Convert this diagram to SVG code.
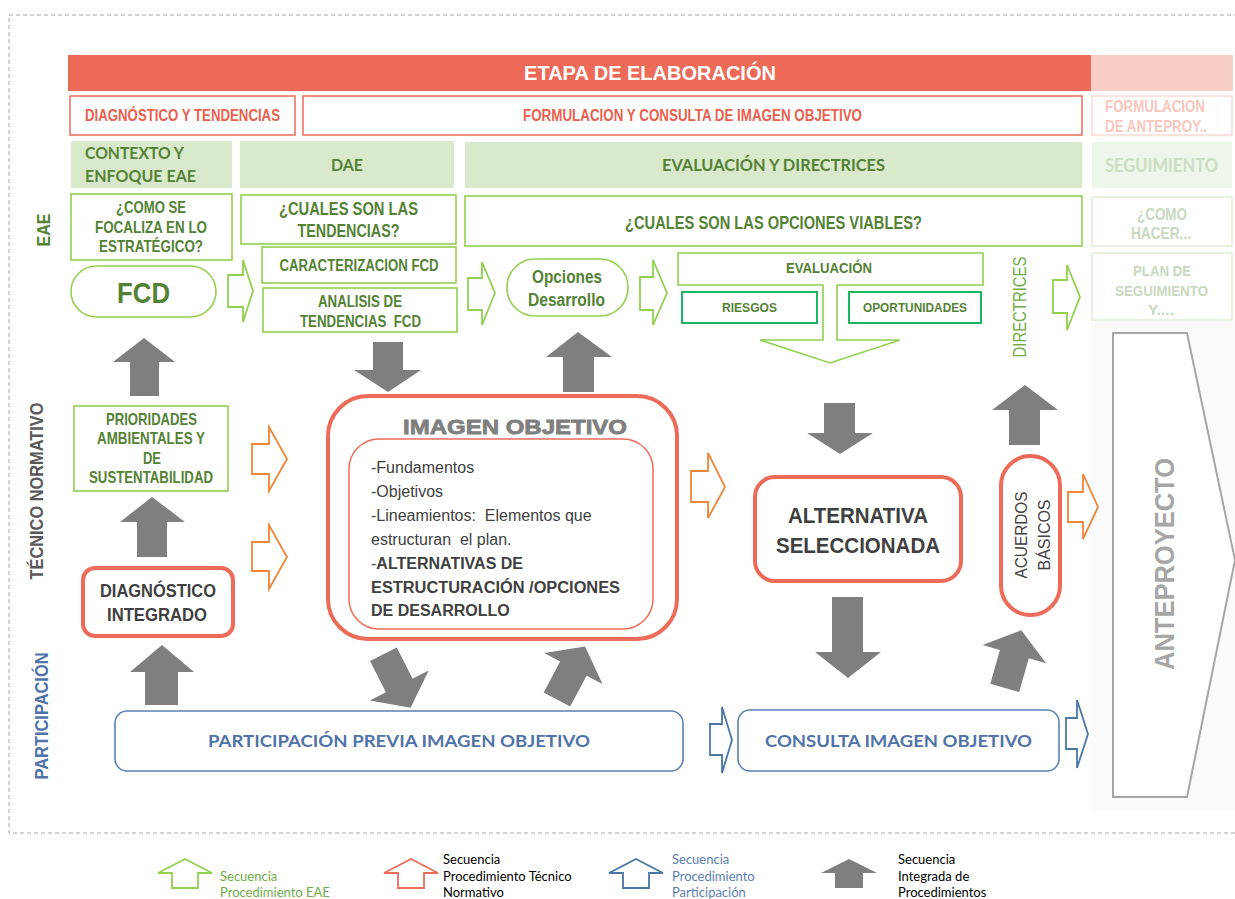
<svg xmlns="http://www.w3.org/2000/svg" width="1235" height="899" viewBox="0 0 1235 899">
  <defs>
    <style>
      .nar { font-family: "Liberation Sans", Arial, sans-serif; font-weight: bold; }
      .reg { font-family: "Liberation Sans", Arial, sans-serif; font-weight: normal; }
      .cal { font-family: Lato, "Open Sans", sans-serif; font-weight: bold; }
      .leg { font-family: Lato, "Open Sans", sans-serif; font-weight: normal; font-size: 13px; }
      .redbox { fill: #fff; stroke: #ee6b5a; stroke-width: 1.5; }
      .redtxt { fill: #ea5f4d; }
      .greenfill { fill: #d9e9cc; }
      .greenbox { fill: #fff; stroke: #92d050; stroke-width: 1.6; }
      .darkgreenbox { fill: #fff; stroke: #00b050; stroke-width: 1.8; }
      .gtxt { fill: #548235; }
      .thick { fill: #fff; stroke: #ee6b5a; stroke-width: 4; }
      .bluebox { fill: #fff; stroke: #5a80b4; stroke-width: 1.6; }
      .btxt { fill: #4f73a8; }
      .dtxt { fill: #404040; }
      .ga { fill: #7f7f7f; }
      .harr-g { fill: #fff; stroke: #92d050; stroke-width: 1.8; }
      .harr-o { fill: #fff; stroke: #f08437; stroke-width: 1.8; }
      .harr-b { fill: #fff; stroke: #4a76a8; stroke-width: 1.8; }
      .harr-r { fill: #fff; stroke: #ee6b5a; stroke-width: 1.8; }
      .fade-box { fill: #fff; stroke: #e2f0d6; stroke-width: 1.6; }
      .fade-txt { fill: #c9d9c1; }
    </style>
    <linearGradient id="orange-fade" gradientUnits="userSpaceOnUse" x1="1068" y1="0" x2="1098" y2="0">
      <stop offset="0" stop-color="#f08437"/>
      <stop offset="0.6" stop-color="#f08437"/>
      <stop offset="1" stop-color="#fbd9c0"/>
    </linearGradient>
  </defs>

  <rect x="0" y="0" width="1235" height="899" fill="#fff"/>

  <!-- outer dashed frame -->
  <rect x="9" y="15" width="1240" height="818" fill="none" stroke="#a6a6a6" stroke-width="1" stroke-dasharray="4 3"/>

  <!-- faded right column backdrop -->
  <rect x="1091" y="322" width="144" height="488" fill="#fafafa"/>

  <!-- header bar -->
  <g id="etapa">
    <rect x="68" y="55" width="1023" height="36" fill="#ee6a58"/>
    <rect x="1091" y="55" width="142" height="36" fill="#f8cdc6"/>
    <text class="nar" x="650" y="80" font-size="20" fill="#fff" text-anchor="middle">ETAPA DE ELABORACIÓN</text>
  </g>

  <!-- phase row -->
  <g id="diag-tend">
    <rect class="redbox" x="70" y="96" width="225" height="39"/>
    <text class="nar redtxt" x="182.5" y="121" font-size="16" text-anchor="middle" textLength="195" lengthAdjust="spacingAndGlyphs">DIAGNÓSTICO Y TENDENCIAS</text>
  </g>
  <g id="formulacion">
    <rect class="redbox" x="303" y="96" width="779" height="39"/>
    <text class="nar redtxt" x="692.5" y="121" font-size="16" text-anchor="middle" textLength="339" lengthAdjust="spacingAndGlyphs">FORMULACION Y CONSULTA DE IMAGEN OBJETIVO</text>
  </g>
  <g id="formulacion-ante">
    <rect x="1092" y="96" width="140" height="39" fill="#fff" stroke="#fbd8d2" stroke-width="1.5"/>
    <text class="nar" x="1105" y="112" font-size="16" fill="#f9c6bd" textLength="100" lengthAdjust="spacingAndGlyphs">FORMULACION</text>
    <text class="nar" x="1105" y="132" font-size="16" fill="#f9c6bd" textLength="102" lengthAdjust="spacingAndGlyphs">DE ANTEPROY..</text>
  </g>

  <!-- EAE stage row -->
  <g id="contexto">
    <rect class="greenfill" x="71" y="141" width="161" height="47"/>
    <text class="cal gtxt" x="85" y="159" font-size="17" textLength="99" lengthAdjust="spacingAndGlyphs">CONTEXTO Y</text>
    <text class="cal gtxt" x="85" y="182" font-size="17" textLength="111" lengthAdjust="spacingAndGlyphs">ENFOQUE EAE</text>
  </g>
  <g id="dae">
    <rect class="greenfill" x="240" y="141" width="214" height="47"/>
    <text class="cal gtxt" x="347" y="171" font-size="17" text-anchor="middle" textLength="32" lengthAdjust="spacingAndGlyphs">DAE</text>
  </g>
  <g id="evaluacion-directrices">
    <rect class="greenfill" x="465" y="142" width="617" height="46"/>
    <text class="cal gtxt" x="773.5" y="171" font-size="17" text-anchor="middle" textLength="223" lengthAdjust="spacingAndGlyphs">EVALUACIÓN Y DIRECTRICES</text>
  </g>
  <g id="seguimiento">
    <rect x="1092" y="142" width="140" height="46" fill="#eef5ea"/>
    <text class="cal" x="1161.5" y="172" font-size="18" fill="#cbdec2" text-anchor="middle" textLength="113" lengthAdjust="spacingAndGlyphs">SEGUIMIENTO</text>
  </g>

  <!-- question boxes -->
  <g id="como-focaliza">
    <rect class="greenbox" x="71" y="194" width="161" height="66"/>
    <text class="nar gtxt" x="151" y="213" font-size="17" text-anchor="middle" textLength="70" lengthAdjust="spacingAndGlyphs">¿COMO SE</text>
    <text class="nar gtxt" x="151" y="233" font-size="17" text-anchor="middle" textLength="112" lengthAdjust="spacingAndGlyphs">FOCALIZA EN LO</text>
    <text class="nar gtxt" x="151" y="252" font-size="17" text-anchor="middle" textLength="104" lengthAdjust="spacingAndGlyphs">ESTRATÉGICO?</text>
  </g>
  <g id="cuales-tendencias">
    <rect class="greenbox" x="241" y="195" width="215" height="49"/>
    <text class="nar gtxt" x="348.5" y="215" font-size="18" text-anchor="middle" textLength="139" lengthAdjust="spacingAndGlyphs">¿CUALES SON LAS</text>
    <text class="nar gtxt" x="348.5" y="237" font-size="18" text-anchor="middle" textLength="102" lengthAdjust="spacingAndGlyphs">TENDENCIAS?</text>
  </g>
  <g id="caracterizacion">
    <rect class="greenbox" x="262" y="247" width="194" height="36"/>
    <text class="nar gtxt" x="359" y="271" font-size="16" text-anchor="middle" textLength="159" lengthAdjust="spacingAndGlyphs">CARACTERIZACION FCD</text>
  </g>
  <g id="analisis">
    <rect class="greenbox" x="263" y="288" width="194" height="44"/>
    <text class="nar gtxt" x="360" y="307" font-size="16" text-anchor="middle" textLength="84" lengthAdjust="spacingAndGlyphs">ANALISIS DE</text>
    <text class="nar gtxt" x="360.5" y="327" font-size="16" text-anchor="middle" textLength="121" lengthAdjust="spacingAndGlyphs">TENDENCIAS&#160; FCD</text>
  </g>
  <g id="opciones-viables">
    <rect class="greenbox" x="465" y="196" width="617" height="50"/>
    <text class="nar gtxt" x="773.5" y="229" font-size="17.5" text-anchor="middle" textLength="297" lengthAdjust="spacingAndGlyphs">¿CUALES SON LAS OPCIONES VIABLES?</text>
  </g>
  <g id="como-hacer">
    <rect class="fade-box" x="1092" y="197" width="140" height="49"/>
    <text class="nar fade-txt" x="1162" y="220" font-size="16" text-anchor="middle" textLength="50" lengthAdjust="spacingAndGlyphs">¿COMO</text>
    <text class="nar fade-txt" x="1161" y="239" font-size="16" text-anchor="middle" textLength="60" lengthAdjust="spacingAndGlyphs">HACER...</text>
  </g>

  <!-- FCD -->
  <g id="fcd">
    <rect class="greenbox" x="71" y="266" width="145" height="51" rx="25.5"/>
    <text class="nar gtxt" x="143.5" y="303" font-size="30" text-anchor="middle" textLength="53" lengthAdjust="spacingAndGlyphs">FCD</text>
  </g>

  <!-- opciones desarrollo -->
  <g id="opciones-desarrollo">
    <rect class="greenbox" x="507" y="259" width="121" height="57" rx="28"/>
    <text class="nar gtxt" x="567" y="283" font-size="17.5" text-anchor="middle" textLength="70" lengthAdjust="spacingAndGlyphs">Opciones</text>
    <text class="nar gtxt" x="566.5" y="306" font-size="17.5" text-anchor="middle" textLength="77" lengthAdjust="spacingAndGlyphs">Desarrollo</text>
  </g>

  <!-- evaluación block with downward outlet -->
  <g id="evaluacion">
    <path class="greenbox" d="M678,253 H983 V285 H837 V340 H900 L830,363 L760,340 H823 V285 H678 Z"/>
    <text class="nar gtxt" x="829" y="273" font-size="15" text-anchor="middle" textLength="86" lengthAdjust="spacingAndGlyphs">EVALUACIÓN</text>
  </g>
  <g id="riesgos">
    <rect class="darkgreenbox" x="682" y="292" width="135" height="31"/>
    <text class="nar gtxt" x="749.5" y="312" font-size="13" text-anchor="middle" textLength="55" lengthAdjust="spacingAndGlyphs">RIESGOS</text>
  </g>
  <g id="oportunidades">
    <rect class="darkgreenbox" x="849" y="292" width="132" height="31"/>
    <text class="nar gtxt" x="915" y="312" font-size="13" text-anchor="middle" textLength="104" lengthAdjust="spacingAndGlyphs">OPORTUNIDADES</text>
  </g>

  <g id="directrices">
    <text class="reg" transform="translate(1026,307) rotate(-90)" font-size="18" fill="#70ad47" text-anchor="middle" textLength="101" lengthAdjust="spacingAndGlyphs">DIRECTRICES</text>
  </g>

  <g id="plan-seguimiento">
    <rect class="fade-box" x="1092" y="253" width="140" height="67"/>
    <text class="nar fade-txt" x="1162" y="276" font-size="15.5" text-anchor="middle" textLength="58" lengthAdjust="spacingAndGlyphs">PLAN DE</text>
    <text class="nar fade-txt" x="1161.5" y="296" font-size="15.5" text-anchor="middle" textLength="93" lengthAdjust="spacingAndGlyphs">SEGUIMIENTO</text>
    <text class="nar fade-txt" x="1161" y="315" font-size="15.5" text-anchor="middle" textLength="26" lengthAdjust="spacingAndGlyphs">Y....</text>
  </g>

  <!-- technical-normative lane -->
  <g id="prioridades">
    <rect class="greenbox" x="74" y="406" width="154" height="85"/>
    <text class="nar gtxt" x="151.5" y="425" font-size="16.5" text-anchor="middle" textLength="91" lengthAdjust="spacingAndGlyphs">PRIORIDADES</text>
    <text class="nar gtxt" x="151" y="444" font-size="16.5" text-anchor="middle" textLength="108" lengthAdjust="spacingAndGlyphs">AMBIENTALES Y</text>
    <text class="nar gtxt" x="152" y="464" font-size="16.5" text-anchor="middle" textLength="18" lengthAdjust="spacingAndGlyphs">DE</text>
    <text class="nar gtxt" x="151" y="483" font-size="16.5" text-anchor="middle" textLength="124" lengthAdjust="spacingAndGlyphs">SUSTENTABILIDAD</text>
  </g>

  <g id="diagnostico-integrado">
    <rect class="thick" x="83" y="568" width="150" height="68" rx="12"/>
    <text class="nar dtxt" x="158" y="597" font-size="18.5" text-anchor="middle" textLength="116" lengthAdjust="spacingAndGlyphs">DIAGNÓSTICO</text>
    <text class="nar dtxt" x="157" y="621" font-size="18.5" text-anchor="middle" textLength="100" lengthAdjust="spacingAndGlyphs">INTEGRADO</text>
  </g>

  <g id="imagen-objetivo">
    <rect class="thick" x="328" y="396" width="349" height="243" rx="40"/>
    <text class="nar" x="515" y="434" font-size="21" fill="#7f7f7f" stroke="#7f7f7f" stroke-width="0.8" text-anchor="middle" textLength="224" lengthAdjust="spacingAndGlyphs">IMAGEN OBJETIVO</text>
    <rect x="349" y="439" width="304" height="190" rx="30" fill="#fff" stroke="#ee6b5a" stroke-width="1.5"/>
    <g class="reg dtxt" font-size="16">
      <text x="371" y="473">-Fundamentos</text>
      <text x="371" y="497">-Objetivos</text>
      <text x="371" y="521">-Lineamientos:&#160; Elementos que</text>
      <text x="371" y="545">estructuran&#160; el plan.</text>
      <text x="371" y="569">-<tspan class="nar">ALTERNATIVAS DE</tspan></text>
      <text class="nar" x="371" y="593" textLength="249" lengthAdjust="spacingAndGlyphs">ESTRUCTURACIÓN /OPCIONES</text>
      <text class="nar" x="371" y="616">DE DESARROLLO</text>
    </g>
  </g>

  <g id="alternativa">
    <rect class="thick" x="755" y="477" width="206" height="104" rx="20"/>
    <text class="nar dtxt" x="858" y="523" font-size="22" text-anchor="middle" textLength="140" lengthAdjust="spacingAndGlyphs">ALTERNATIVA</text>
    <text class="nar dtxt" x="858" y="553" font-size="22" text-anchor="middle" textLength="164" lengthAdjust="spacingAndGlyphs">SELECCIONADA</text>
  </g>

  <g id="acuerdos">
    <rect class="thick" x="1001" y="456" width="59" height="159" rx="29.5"/>
    <text class="reg dtxt" transform="translate(1027,535) rotate(-90)" font-size="17" text-anchor="middle" textLength="87" lengthAdjust="spacingAndGlyphs">ACUERDOS</text>
    <text class="reg dtxt" transform="translate(1050,535) rotate(-90)" font-size="17" text-anchor="middle" textLength="71" lengthAdjust="spacingAndGlyphs">BÁSICOS</text>
  </g>

  <g id="anteproyecto">
    <path d="M1113,333 H1187 L1235,560 L1187,797 H1113 Z" fill="#fff" stroke="#a6a6a6" stroke-width="2"/>
    <text class="nar" transform="translate(1174,564) rotate(-90)" font-size="27" fill="#a6a6a6" text-anchor="middle" textLength="212" lengthAdjust="spacingAndGlyphs">ANTEPROYECTO</text>
  </g>

  <!-- participation lane -->
  <g id="participacion-previa">
    <rect class="bluebox" x="115" y="711" width="568" height="60" rx="12"/>
    <text class="cal btxt" x="399" y="747" font-size="17" text-anchor="middle" textLength="382" lengthAdjust="spacingAndGlyphs">PARTICIPACIÓN PREVIA IMAGEN OBJETIVO</text>
  </g>
  <g id="consulta">
    <rect class="bluebox" x="738" y="710" width="321" height="61" rx="12"/>
    <text class="cal btxt" x="898.5" y="747" font-size="17" text-anchor="middle" textLength="267" lengthAdjust="spacingAndGlyphs">CONSULTA IMAGEN OBJETIVO</text>
  </g>

  <!-- lane labels -->
  <g id="lane-labels">
    <text class="nar gtxt" transform="translate(50,230) rotate(-90)" font-size="19" text-anchor="middle" textLength="33" lengthAdjust="spacingAndGlyphs">EAE</text>
    <text class="nar" transform="translate(43,491) rotate(-90)" font-size="18" fill="#595959" text-anchor="middle" textLength="177" lengthAdjust="spacingAndGlyphs">TÉCNICO NORMATIVO</text>
    <text class="nar btxt" transform="translate(48,716) rotate(-90)" font-size="18" text-anchor="middle" textLength="127" lengthAdjust="spacingAndGlyphs">PARTICIPACIÓN</text>
  </g>

  <!-- connectors -->
  <g id="connectors">
    <!-- EAE sequence (hollow green) -->
    <polygon class="harr-g" points="228,275 243,275 243,260 253,291 243,322 243,307 228,307"/>
    <polygon class="harr-g" points="468,278 482,278 482,262 495,293 482,325 482,310 468,310"/>
    <polygon class="harr-g" points="640,277 653,277 653,260 667,293 653,325 653,310 640,310"/>
    <polygon class="harr-g" points="1053,280 1067,280 1067,265 1080,297 1067,330 1067,313 1053,313"/>
    <!-- technical-normative sequence (hollow orange) -->
    <polygon class="harr-o" points="252,444 269,444 269,427 287,459 269,491 269,474 252,474"/>
    <polygon class="harr-o" points="252,542 269,542 269,525 287,557 269,589 269,571 252,571"/>
    <polygon class="harr-o" points="691,471 708,471 708,453 725,487 708,518 708,502 691,502"/>
    <polygon class="harr-o" stroke="url(#orange-fade)" points="1068,492 1083,492 1083,474 1098,507 1083,539 1083,522 1068,522"/>
    <!-- participation sequence (hollow blue) -->
    <polygon class="harr-b" points="710,724 722,724 722,707 732,740 722,773 722,755 710,755"/>
    <polygon class="harr-b" points="1066,718 1077,718 1077,700 1088,734 1077,768 1077,749 1066,749"/>
    <!-- integrated sequence (solid grey) -->
    <polygon class="ga" points="144,338 175,362 159,362 159,396 130,396 130,362 113,362"/>
    <polygon class="ga" points="152,497 185,522 167,522 167,557 137,557 137,522 120,522"/>
    <polygon class="ga" points="162,645 194,672 178,672 178,705 145,705 145,672 130,672"/>
    <polygon class="ga" points="373,342 403,342 403,370 421,370 388,392 354,370 373,370"/>
    <polygon class="ga" points="578,332 612,357 594,357 594,392 563,392 563,357 546,357"/>
    <polygon class="ga" points="824,403 855,403 855,433 873,433 840,454 807,433 824,433"/>
    <polygon class="ga" points="832,597 863,597 863,652 881,652 848,678 815,652 832,652"/>
    <polygon class="ga" points="1025,385 1058,410 1040,410 1040,445 1009,445 1009,410 992,410"/>
    <polygon class="ga" transform="translate(1013,659) rotate(16)" points="0,-30 33,-5 15,-5 15,30 -15,30 -15,-5 -33,-5"/>
    <polygon class="ga" transform="translate(397,681) rotate(-27)" points="0,30 33,5 15,5 15,-30 -15,-30 -15,5 -33,5"/>
    <polygon class="ga" transform="translate(571,673) rotate(28)" points="0,-30 33,-5 15,-5 15,30 -15,30 -15,-5 -33,-5"/>
  </g>

  <!-- legend -->
  <g id="legend">
    <polygon class="harr-g" points="185,859 212,873 198,873 198,888 172,888 172,873 158,873"/>
    <text class="leg" x="220" y="881" fill="#70ad47">Secuencia</text>
    <text class="leg" x="220" y="897" fill="#70ad47">Procedimiento EAE</text>

    <polygon class="harr-r" points="411,859 438,873 424,873 424,888 398,888 398,873 384,873"/>
    <text class="leg" x="443" y="864" fill="#000">Secuencia</text>
    <text class="leg" x="443" y="881" fill="#000">Procedimiento Técnico</text>
    <text class="leg" x="443" y="897" fill="#000">Normativo</text>

    <polygon class="harr-b" points="636,859 663,873 649,873 649,888 623,888 623,873 609,873"/>
    <text class="leg" x="672" y="864" fill="#5b80b4">Secuencia</text>
    <text class="leg" x="672" y="881" fill="#5b80b4">Procedimiento</text>
    <text class="leg" x="672" y="897" fill="#5b80b4">Participación</text>

    <polygon class="ga" points="849,859 877,873 863,873 863,888 835,888 835,873 821,873"/>
    <text class="leg" x="898" y="864" fill="#000">Secuencia</text>
    <text class="leg" x="898" y="881" fill="#000">Integrada de</text>
    <text class="leg" x="898" y="897" fill="#000">Procedimientos</text>
  </g>
</svg>
